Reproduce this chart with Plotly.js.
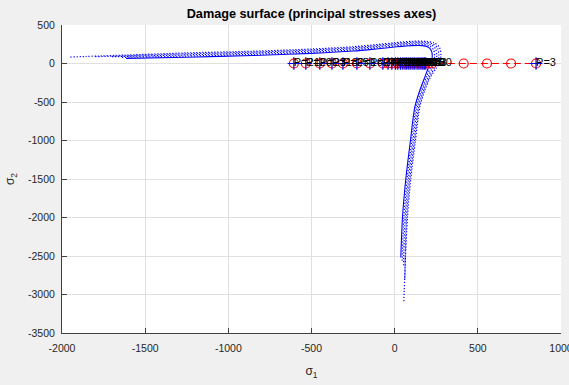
<!DOCTYPE html>
<html>
<head>
<meta charset="utf-8">
<script src="https://cdn.plot.ly/plotly-3.0.1.min.js"></script>
<style>
  html, body { margin: 0; padding: 0; background: #f0f0f0; }
  #plot { width: 569px; height: 385px; }
</style>
</head>
<body>
<div id="plot"></div>
<script>
// Damage surface in principal stress space (sigma1, sigma2)
// Current damage surface (solid)
const surfSigma1 = [-1615, -1250, -850, -500, -250, -100, 0, 100, 165, 200, 220, 226, 220, 204, 181, 151, 121, 95, 67, 47, 37];
const surfSigma2 = [66, 82, 104, 132, 162, 192, 214, 232, 232, 214, 170, 100, 20, -48, -178, -350, -567, -1000, -1500, -2000, -2520];

// Successive damage surfaces (dotted)
const surf1Sigma1 = [-1640, -1250, -850, -500, -250, -100, 0, 100, 170, 210, 233, 240, 233, 216, 190, 159, 129, 103, 75, 55, 45];
const surf1Sigma2 = [80, 97, 119, 147, 177, 207, 229, 247, 247, 228, 180, 100, 18, -50, -178, -350, -567, -1000, -1500, -2000, -2560];

const surf2Sigma1 = [-1700, -1250, -850, -500, -250, -100, 0, 100, 175, 220, 246, 253, 246, 228, 199, 167, 137, 111, 83, 63, 53];
const surf2Sigma2 = [88, 112, 134, 162, 192, 222, 244, 262, 262, 242, 190, 100, 14, -54, -178, -350, -567, -1000, -1500, -2000, -2620];

const surf3Sigma1 = [-1800, -1250, -850, -500, -250, -100, 0, 100, 180, 230, 258, 266, 258, 240, 208, 175, 145, 119, 91, 71, 61];
const surf3Sigma2 = [88, 126, 148, 176, 206, 236, 258, 276, 276, 255, 200, 100, 10, -57, -178, -350, -567, -1000, -1500, -2000, -2800];

const surf4Sigma1 = [-1950, -1615, -1250, -850, -500, -250, -100, 0, 100, 185, 240, 270, 278, 270, 250, 215, 181, 151, 125, 97, 77, 65, 55];
const surf4Sigma2 = [84, 110, 138, 160, 188, 218, 248, 270, 288, 288, 266, 208, 100, 6, -60, -178, -350, -567, -1000, -1500, -2000, -2520, -3100];

// Stress path points along sigma2 = 0
const pathSigma1 = [-606, -534, -450, -377, -311, -227, -149, -71, -40, -17, 5, 19, 35, 49, 62, 73, 85, 97, 110, 121, 135, 146, 158, 169, 178, 187, 205, 225, 415, 555, 700, 850];
const pathSigma2 = pathSigma1.map(() => 0);

// Labelled points
const labelSigma1 = [-606, -534, -450, -377, -311, -227, -149, -71, -40, -17, 5, 19, 35, 49, 62, 73, 85, 97, 110, 121, 135, 146, 158, 169, 178, 187, 850];
const labelSigma2 = labelSigma1.map(() => 0);
const labelText = ['P=21', 'P=20', 'P=23', 'P=18', 'P=25', 'P=16', 'P=24', 'P=6', 'P=14', 'P=19', 'P=12', 'P=22', 'P=10', 'P=17', 'P=8', 'P=26', 'P=15', 'P=27', 'P=11', 'P=28', 'P=9', 'P=29', 'P=13', 'P=7', 'P=5', 'P=30', 'P=3'];

// Axis ticks
const xTicks = [-2000, -1500, -1000, -500, 0, 500, 1000];
const yTicks = [-3500, -3000, -2500, -2000, -1500, -1000, -500, 0, 500];

const blue = '#0000ff';
const font = 'Liberation Sans, Arial, sans-serif';
const dotted = { color: blue, width: 1.2, dash: '1.2px,1.8px', shape: 'spline', smoothing: 0.8 };

const dottedSurfaces = [
  [surf4Sigma1, surf4Sigma2],
  [surf3Sigma1, surf3Sigma2],
  [surf2Sigma1, surf2Sigma2],
  [surf1Sigma1, surf1Sigma2]
];

const traces = dottedSurfaces.map(([xs, ys]) => ({ x: xs, y: ys, mode: 'lines', line: dotted, hoverinfo: 'skip' }));

traces.push(
  { x: surfSigma1, y: surfSigma2, mode: 'lines',
    line: { color: blue, width: 1.1, shape: 'spline', smoothing: 0.8 }, hoverinfo: 'skip' },
  { x: pathSigma1, y: pathSigma2, mode: 'lines+markers',
    line: { color: '#ff0000', width: 1.2, dash: '7px,4px' },
    marker: { symbol: 'circle-open', size: 9, color: '#ff0000', line: { width: 1.2, color: '#ff0000' } } },
  { x: labelSigma1, y: labelSigma2, mode: 'markers',
    marker: { symbol: 'cross-thin-open', size: 9, color: blue, line: { width: 1.2, color: blue } } },
  { x: labelSigma1, y: labelSigma2, mode: 'text', text: labelText, textposition: 'middle right',
    textfont: { family: font, size: 11, color: '#000000' }, hoverinfo: 'skip' }
);

const axisCommon = {
  showgrid: true,
  gridcolor: '#e0e0e0',
  gridwidth: 1,
  zeroline: false,
  showline: true,
  linecolor: '#404040',
  linewidth: 1,
  ticks: 'inside',
  ticklen: 5,
  tickwidth: 1,
  tickcolor: '#404040',
  mirror: false,
  ticklabeloverflow: 'allow',
  tickfont: { family: font, size: 10.5, color: '#262626' }
};

const layout = {
  width: 569,
  height: 385,
  paper_bgcolor: '#f0f0f0',
  plot_bgcolor: '#ffffff',
  showlegend: false,
  margin: { l: 62, r: 8, t: 25, b: 52 },
  title: {
    text: '<b>Damage surface (principal stresses axes)</b>',
    font: { family: font, size: 12.7, color: '#000000' },
    x: 0.5, xref: 'paper', xanchor: 'center',
    y: 0.966, yref: 'container', yanchor: 'middle'
  },
  xaxis: Object.assign({}, axisCommon, {
    range: [-2000, 1000],
    tickvals: xTicks,
    ticktext: xTicks.map(String),
    ticklabelstandoff: 5,
    title: { text: 'σ<sub>1</sub>', font: { family: font, size: 12, color: '#262626' }, standoff: 14 }
  }),
  yaxis: Object.assign({}, axisCommon, {
    range: [-3500, 500],
    tickvals: yTicks,
    ticktext: yTicks.map(String),
    ticklabelstandoff: 4,
    title: { text: 'σ<sub>2</sub>', font: { family: font, size: 12, color: '#262626' }, standoff: 10 }
  })
};

Plotly.newPlot('plot', traces, layout, { staticPlot: true, displayModeBar: false });
</script>
</body>
</html>
